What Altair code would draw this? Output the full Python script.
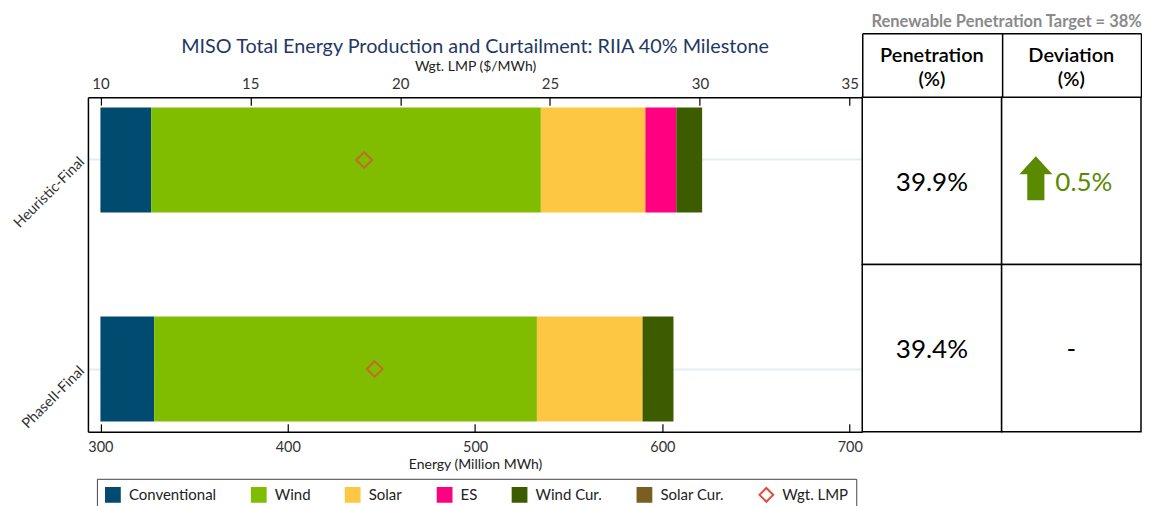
import altair as alt
import pandas as pd

# ---------------- data ----------------
scenarios = ["Heuristic-Final", "PhaseII-Final"]
series_names = ["Conventional", "Wind", "Solar", "ES", "Wind Cur.", "Solar Cur."]
conventional = [327.1, 328.7]
wind = [208.0, 204.3]
solar = [55.8, 56.4]
es = [16.5, 0.0]
wind_cur = [13.8, 16.5]
solar_cur = [0.0, 0.0]
wgt_lmp = [18.8, 19.15]
penetration = [39.9, 39.4]
deviation = [0.5, None]
target = 38
energy_break = 300
energy_ticks = [300, 400, 500, 600, 700]
lmp_ticks = [10, 15, 20, 25, 30, 35]
table_columns = ["Penetration (%)", "Deviation (%)"]

series_colors = ["#004b6f", "#80bc00", "#fec743", "#ff0080", "#3d5c00", "#7a5e22"]
lmp_color = "#e04b3a"
up_color = "#5a8a00"

series_values = [conventional, wind, solar, es, wind_cur, solar_cur]
bar_rows = []
for si, name in enumerate(series_names):
    for ci, sc in enumerate(scenarios):
        bar_rows.append({"scenario": sc, "series": name, "value": series_values[si][ci], "order": si})
bars_df = pd.DataFrame(bar_rows)

lmp_df = pd.DataFrame({"scenario": scenarios, "lmp": wgt_lmp, "series": ["Wgt. LMP"] * len(scenarios)})

legend_domain = series_names + ["Wgt. LMP"]
fill_scale = alt.Scale(domain=legend_domain, range=series_colors + ["transparent"])
stroke_scale = alt.Scale(domain=legend_domain, range=series_colors + [lmp_color])
shape_scale = alt.Scale(domain=legend_domain, range=["square"] * 6 + ["diamond"])

legend = alt.Legend(
    title=None, orient="none", legendX=9, legendY=382, direction="horizontal",
    columns=7, columnPadding=31, symbolSize=190, symbolStrokeWidth=2, symbolOpacity=1,
    labelFontSize=15, labelFont="Lato", labelColor="#222", labelOffset=8,
    strokeColor="#444", padding=8, fillColor="white",
)

y_enc = alt.Y(
    "scenario:N",
    scale=alt.Scale(domain=scenarios, paddingInner=0.498, paddingOuter=0.05),
    axis=alt.Axis(
        title=None, labelAngle=-45, labelAlign="right", labelBaseline="middle",
        labelFontSize=14.5, labelColor="#333", labelFont="Lato", ticks=False,
        domainColor="black", domainWidth=1.5, grid=True, gridColor="#e4edf0",
        gridWidth=2, bandPosition=0.5, labelPadding=6,
    ),
)

bars = (
    alt.Chart(bars_df)
    .transform_stack(stack="value", groupby=["scenario"], as_=["e0", "e1"],
                     sort=[alt.SortField("order")])
    .transform_calculate(e0c=f"max(datum.e0, {energy_break})")
    .mark_bar()
    .encode(
        x=alt.X(
            "e0c:Q",
            scale=alt.Scale(domain=[energy_ticks[0], energy_ticks[-1]], padding=12.5, nice=False, zero=False),
            axis=alt.Axis(
                orient="bottom", values=energy_ticks, title="Energy (Million MWh)",
                titleFontSize=14, titleFontWeight="normal", titleColor="#222", titleFont="Lato",
                labelFontSize=14.5, labelColor="#333", labelFont="Lato",
                tickColor="black", tickSize={"expr": "-8"}, tickWidth=1.2,
                domainColor="black", domainWidth=1.5, grid=False, labelPadding=17, titlePadding=3,
            ),
        ),
        x2="e1:Q",
        y=y_enc,
        fill=alt.Fill("series:N", scale=fill_scale, legend=legend),
    )
)

points = (
    alt.Chart(lmp_df)
    .mark_point(filled=False, strokeWidth=2, size=250)
    .encode(
        x=alt.X(
            "lmp:Q",
            scale=alt.Scale(domain=[lmp_ticks[0], lmp_ticks[-1]], padding=12.5, nice=False, zero=False),
            axis=alt.Axis(
                orient="top", values=lmp_ticks, title="Wgt. LMP ($/MWh)",
                titleFontSize=14, titleFontWeight="normal", titleColor="#222", titleFont="Lato",
                labelFontSize=15, labelColor="#333", labelFont="Lato",
                tickColor="black", tickSize={"expr": "-8"}, tickWidth=1.2,
                domainColor="black", domainWidth=1.5, grid=False, labelPadding=14, titlePadding=3,
            ),
        ),
        y=y_enc,
        fill=alt.Fill("series:N", scale=fill_scale, legend=legend),
        stroke=alt.Stroke("series:N", scale=stroke_scale, legend=legend),
        shape=alt.Shape("series:N", scale=shape_scale, legend=legend),
    )
)

main = (
    alt.layer(bars, points)
    .resolve_scale(x="independent")
    .properties(
        width=775, height=335,
        title=alt.TitleParams(
            "MISO Total Energy Production and Curtailment: RIIA 40% Milestone",
            fontSize=19.8, font="Lato", fontWeight="normal", color="#1f3864",
            anchor="middle", offset=2,
        ),
    )
)

# ---------------- table ----------------
cell_rows = []
for ci, sc in enumerate(scenarios):
    cell_rows.append({"scenario": sc, "column": table_columns[0], "text": f"{penetration[ci]:.1f}%", "kind": "pen", "up": 0})
    d = deviation[ci]
    if d is None:
        cell_rows.append({"scenario": sc, "column": table_columns[1], "text": "-", "kind": "none", "up": 0})
    else:
        cell_rows.append({"scenario": sc, "column": table_columns[1], "text": f"{d:.1f}%", "kind": "dev", "up": 1 if d > 0 else 0})
cells_df = pd.DataFrame(cell_rows)

tx_scale = alt.Scale(domain=table_columns, paddingInner=0, paddingOuter=0)
ty = alt.Y("scenario:N", scale=alt.Scale(domain=scenarios, paddingInner=0, paddingOuter=0), axis=None)

base = alt.Chart(cells_df)

cells = base.mark_rect(fill="white", stroke="black", strokeWidth=1.5).encode(
    x=alt.X("column:N", scale=tx_scale, axis=alt.Axis(
        orient="top", title=None, labelAngle=0, labelExpr="split(datum.label, ' ')",
        labelFontSize=20, labelFontWeight=600, labelColor="black", labelFont="Lato",
        labelLineHeight=24, ticks=False, domain=False, labelPadding=32, grid=False,
    )),
    y=ty,
)

pen_text = base.transform_filter("datum.kind != 'dev'").mark_text(
    fontSize=26, font="Lato", color="black", dy=2
).encode(
    x=alt.X("column:N", scale=tx_scale, axis=alt.Axis(
        orient="top", title=None, labels=False, ticks=True, tickBand="extent",
        tickSize={"expr": "-64"}, tickColor="black", tickWidth=1.5, offset=64,
        domain=True, domainColor="black", domainWidth=1.5, grid=False,
    )),
    y=ty,
    text="text:N",
)

dev_text = base.transform_filter("datum.kind == 'dev'").mark_text(
    fontSize=26, font="Lato", color=up_color, align="left", dx=-16, dy=2
).encode(
    x=alt.X("column:N", scale=tx_scale, axis=None),
    y=ty,
    text="text:N",
)

arrow_path = "M0,-1L0.75,-0.18L0.39,-0.18L0.39,1L-0.39,1L-0.39,-0.18L-0.75,-0.18Z"
arrow = base.transform_filter("datum.up == 1").mark_point(
    shape=arrow_path, filled=True, color=up_color, opacity=1, size=1936,
    xOffset=-35.5, yOffset=-2.5,
).encode(
    x=alt.X("column:N", scale=tx_scale, axis=None),
    y=ty,
)

table = (
    alt.layer(cells, pen_text, dev_text, arrow)
    .resolve_scale(x="independent")
    .properties(
        width=279, height=335,
        title=alt.TitleParams(
            f"Renewable Penetration Target = {target}%",
            anchor="end", fontSize=16.5, font="Lato", color="#8a8a8a",
            fontWeight="bold", offset=2,
        ),
    )
)

chart = (
    alt.hconcat(main, table, spacing=0, bounds="flush")
    .properties(padding={"left": 2, "top": 5, "right": 0, "bottom": 5})
    .configure(font="Lato")
    .configure_view(stroke=None)
)

chart.save("out.html", embed_options={"renderer": "svg", "actions": False})
